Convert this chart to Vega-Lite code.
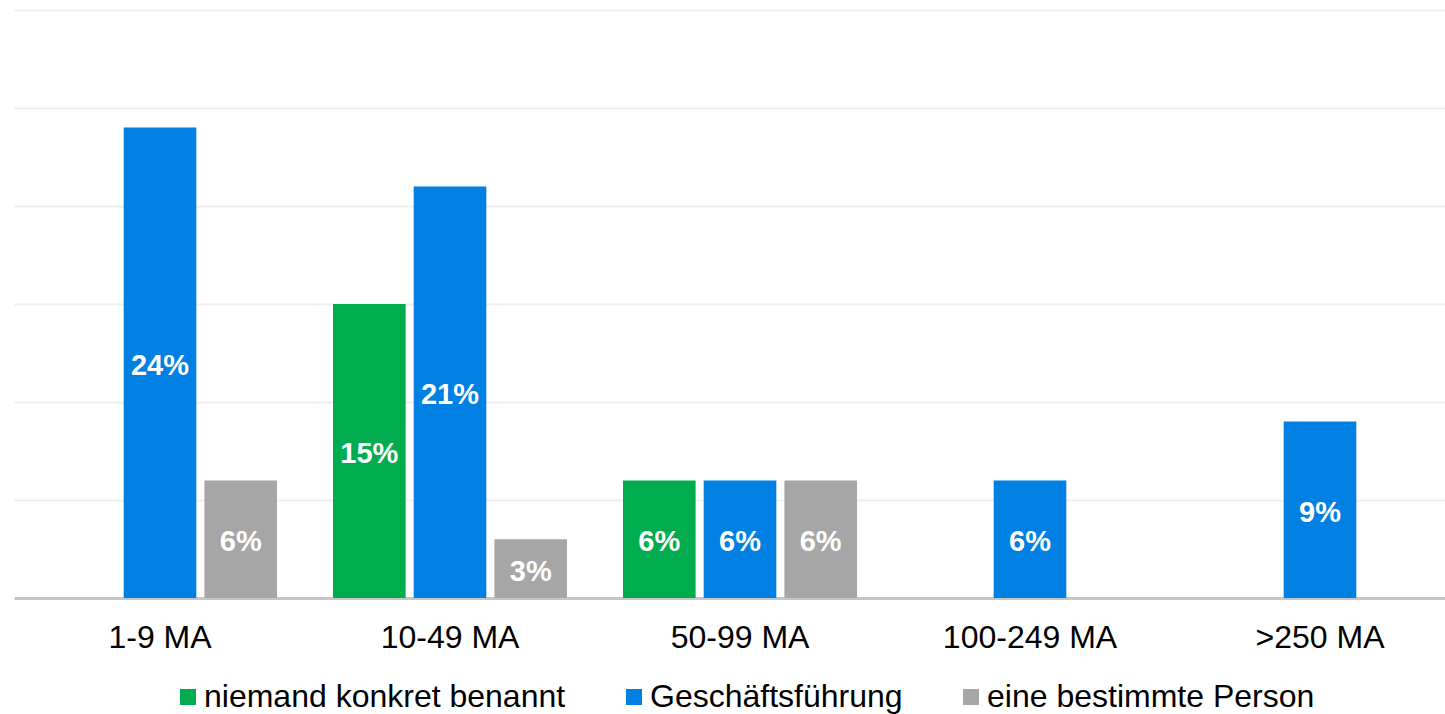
{
  "$schema": "https://vega.github.io/schema/vega-lite/v6.json",
  "autosize": {"type": "none"},
  "width": 1431,
  "height": 588,
  "padding": {"left": 14, "top": 10, "right": 0, "bottom": 116},
  "background": "white",
  "config": {
    "view": {"stroke": null},
    "font": "Liberation Sans"
  },
  "data": {
    "values": [
      {"groesse": "1-9 MA", "serie": "Geschäftsführung", "wert": 0.24},
      {"groesse": "1-9 MA", "serie": "eine bestimmte Person", "wert": 0.06},
      {"groesse": "10-49 MA", "serie": "niemand konkret benannt", "wert": 0.15},
      {"groesse": "10-49 MA", "serie": "Geschäftsführung", "wert": 0.21},
      {"groesse": "10-49 MA", "serie": "eine bestimmte Person", "wert": 0.03},
      {"groesse": "50-99 MA", "serie": "niemand konkret benannt", "wert": 0.06},
      {"groesse": "50-99 MA", "serie": "Geschäftsführung", "wert": 0.06},
      {"groesse": "50-99 MA", "serie": "eine bestimmte Person", "wert": 0.06},
      {"groesse": "100-249 MA", "serie": "Geschäftsführung", "wert": 0.06},
      {"groesse": ">250 MA", "serie": "Geschäftsführung", "wert": 0.09}
    ]
  },
  "encoding": {
    "x": {
      "field": "groesse",
      "type": "nominal",
      "sort": ["1-9 MA", "10-49 MA", "50-99 MA", "100-249 MA", ">250 MA"],
      "scale": {"range": [0, 1452], "paddingInner": 0.193, "paddingOuter": 0.1},
      "axis": {
        "title": null,
        "labelAngle": 0,
        "labelFont": "Liberation Sans",
        "labelFontSize": 32,
        "labelColor": "#000000",
        "labelPadding": 24,
        "ticks": false,
        "domainColor": "#c6c6c6",
        "domainWidth": 3,
        "grid": false
      }
    },
    "xOffset": {
      "field": "serie",
      "type": "nominal",
      "sort": ["niemand konkret benannt", "Geschäftsführung", "eine bestimmte Person"],
      "scale": {"paddingInner": 0.1, "paddingOuter": 0}
    }
  },
  "layer": [
    {
      "mark": {"type": "bar"},
      "encoding": {
        "y": {
          "field": "wert",
          "type": "quantitative",
          "scale": {"domain": [0, 0.3], "nice": false},
          "axis": {
            "title": null,
            "labels": false,
            "ticks": false,
            "domain": false,
            "grid": true,
            "gridColor": "#efefef",
            "gridWidth": 2,
            "values": [0.05, 0.1, 0.15, 0.2, 0.25, 0.3]
          }
        },
        "color": {
          "field": "serie",
          "type": "nominal",
          "sort": ["niemand konkret benannt", "Geschäftsführung", "eine bestimmte Person"],
          "scale": {
            "domain": ["niemand konkret benannt", "Geschäftsführung", "eine bestimmte Person"],
            "range": ["#00ac4e", "#0080e2", "#a6a6a6"]
          },
          "legend": {
            "title": null,
            "orient": "none",
            "legendX": 158,
            "legendY": 671,
            "direction": "horizontal",
            "symbolType": "square",
            "symbolSize": 256,
            "symbolStrokeWidth": 0,
            "labelFont": "Liberation Sans",
            "labelFontSize": 32,
            "labelColor": "#000000",
            "labelLimit": 800,
            "labelOffset": 0,
            "columnPadding": 52,
            "padding": 0
          }
        }
      }
    },
    {
      "mark": {
        "type": "text",
        "color": "white",
        "fontWeight": "bold",
        "fontSize": 29,
        "font": "Liberation Sans",
        "baseline": "middle",
        "align": "center",
        "dy": 3
      },
      "encoding": {
        "y": {
          "field": "wert",
          "type": "quantitative",
          "scale": {"domain": [0, 0.6], "nice": false},
          "axis": null
        },
        "text": {"field": "wert", "type": "quantitative", "format": ".0%"}
      }
    }
  ],
  "resolve": {"scale": {"y": "independent"}}
}
